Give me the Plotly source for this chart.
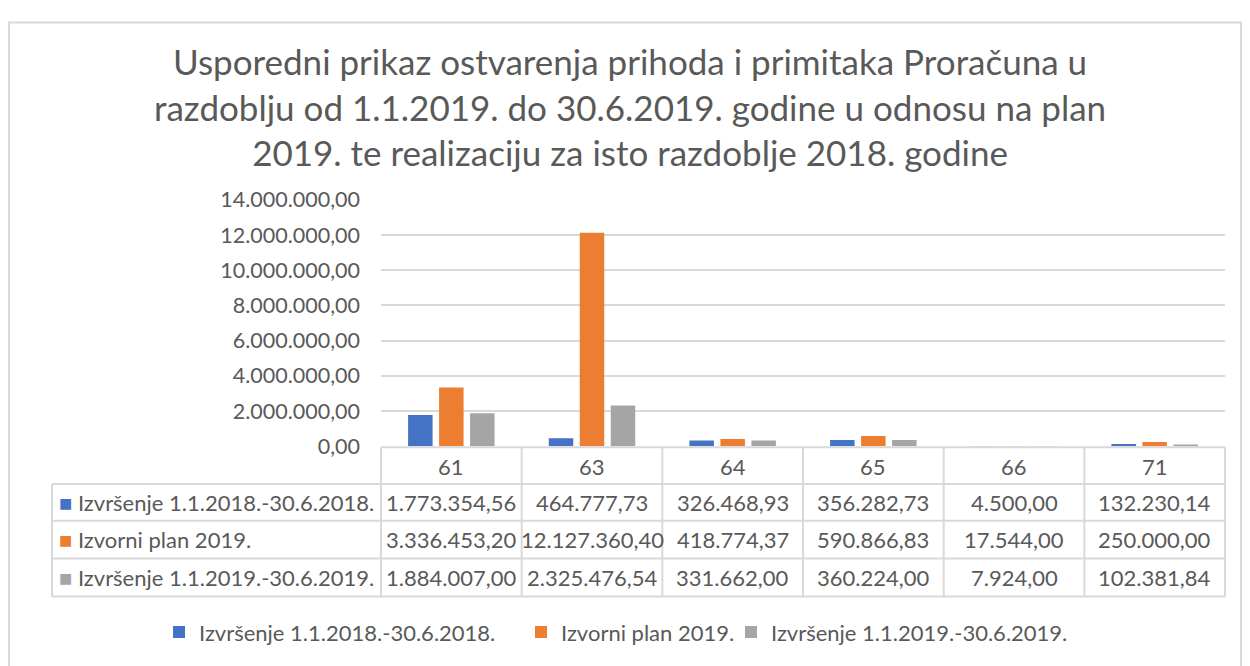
import plotly.graph_objects as go

W, H = 1250, 666          # screenshot size
OFF_X = 8                 # page body margin (horizontal)
# observed vertical mapping of the photographed page: screen_y = SY * fig_y + OFF_Y
SY, OFF_Y = 0.967, 19.0
FW, FH = W - 2 * OFF_X, 666

categories = ["61", "63", "64", "65", "66", "71"]
series_names = [
    "Izvršenje 1.1.2018.-30.6.2018.",
    "Izvorni plan 2019.",
    "Izvršenje 1.1.2019.-30.6.2019.",
]
izvrsenje_2018 = [1773354.56, 464777.73, 326468.93, 356282.73, 4500.00, 132230.14]
izvorni_plan_2019 = [3336453.20, 12127360.40, 418774.37, 590866.83, 17544.00, 250000.00]
izvrsenje_2019 = [1884007.00, 2325476.54, 331662.00, 360224.00, 7924.00, 102381.84]
series_values = [izvrsenje_2018, izvorni_plan_2019, izvrsenje_2019]
colors = ["#4472C4", "#ED7D31", "#A5A5A5"]

title_text = ("Usporedni prikaz ostvarenja prihoda i primitaka Proračuna u<br>"
              "razdoblju od 1.1.2019. do 30.6.2019. godine u odnosu na plan<br>"
              "2019. te realizaciju za isto razdoblje 2018. godine")

FONT = "Lato"
TXT = "#595959"
GRID = "#D9D9D9"


def px(x):
    return (x - OFF_X) / FW


def py(y):
    return 1 - ((y - OFF_Y) / SY) / FH


def fmt(v):
    s = f"{v:,.2f}"
    return s.replace(",", "X").replace(".", ",").replace("X", ".")


# plot area in screenshot pixels
X0, X1 = 381, 1225
Y_ZERO, Y_TOP = 447, 199

fig = go.Figure()
legend_ids = ["legend", "legend2", "legend3"]
for name, vals, col, lg in zip(series_names, series_values, colors, legend_ids):
    fig.add_trace(go.Bar(
        x=categories, y=vals, name=name, marker=dict(color=col, line=dict(width=0)),
        legend=lg, hoverinfo="x+y+name",
    ))

shapes = []
annotations = []

# outer frame
shapes.append(dict(type="rect", xref="paper", yref="paper",
                   x0=px(9), x1=px(1241), y0=py(720), y1=py(20.5),
                   line=dict(color=GRID, width=2), fillcolor="rgba(0,0,0,0)", layer="below"))

# data table grid
row_lines = [485, 522, 560, 598]
col_w = (X1 - X0) / len(categories)
shapes.append(dict(type="line", xref="paper", yref="paper", x0=px(X0), x1=px(X1),
                   y0=py(448), y1=py(448), line=dict(color=GRID, width=2)))
for ry in row_lines:
    shapes.append(dict(type="line", xref="paper", yref="paper", x0=px(52), x1=px(X1),
                       y0=py(ry), y1=py(ry), line=dict(color=GRID, width=2)))
for k in range(len(categories) + 1):
    xx = X0 + k * col_w
    shapes.append(dict(type="line", xref="paper", yref="paper", x0=px(xx), x1=px(xx),
                       y0=py(448), y1=py(598), line=dict(color=GRID, width=2)))
shapes.append(dict(type="line", xref="paper", yref="paper", x0=px(52), x1=px(52),
                   y0=py(485), y1=py(598), line=dict(color=GRID, width=2)))

TFS = 22
# header category labels (placed through the category x axis by index)
for i, c in enumerate(categories):
    annotations.append(dict(x=i, xref="x", y=py(467), yref="paper", text=c,
                            showarrow=False, xanchor="center", yanchor="middle",
                            font=dict(family=FONT, size=TFS, color=TXT)))
row_centers = [504, 541, 579]
for name, vals, col, yc in zip(series_names, series_values, colors, row_centers):
    annotations.append(dict(x=px(57), xref="paper", y=py(yc), yref="paper",
                            text=f"<span style='color:{col}'>■</span> {name}",
                            showarrow=False, xanchor="left", yanchor="middle",
                            font=dict(family=FONT, size=TFS, color=TXT)))
    for i, v in enumerate(vals):
        annotations.append(dict(x=i, xref="x", y=py(yc), yref="paper", text=fmt(v),
                                showarrow=False, xanchor="center", yanchor="middle",
                                font=dict(family=FONT, size=TFS, color=TXT)))

# title
annotations.append(dict(x=px(630), xref="paper", y=py(105), yref="paper", text=title_text,
                        showarrow=False, xanchor="center", yanchor="middle",
                        font=dict(family=FONT, size=35, color=TXT)))

leg_common = dict(orientation="h", yanchor="middle", xanchor="left", bgcolor="rgba(0,0,0,0)",
                  font=dict(family=FONT, size=22, color=TXT), itemwidth=30,
                  y=py(634))

fig.update_layout(
    width=FW, height=FH,
    margin=dict(l=0, r=0, t=0, b=0),
    paper_bgcolor="white", plot_bgcolor="white",
    separators=",.",
    barmode="group", bargap=0.339, bargroupgap=0.21,
    showlegend=True,
    legend=dict(**leg_common, x=px(159)),
    legend2=dict(**leg_common, x=px(521)),
    legend3=dict(**leg_common, x=px(731)),
    xaxis=dict(type="category", domain=[px(X0), px(X1)], range=[-0.5, len(categories) - 0.5],
               autorange=False, showticklabels=False,
               showgrid=False, zeroline=False, showline=False, ticks=""),
    yaxis=dict(domain=[py(Y_ZERO), py(Y_TOP)], range=[0, 14000000], autorange=False,
               dtick=2000000,
               tickformat=",.2f", showgrid=True, gridcolor=GRID, gridwidth=2,
               zeroline=False, showline=False, ticks="", ticklabelstandoff=20,
               tickfont=dict(family=FONT, size=21.5, color=TXT)),
    shapes=shapes,
    annotations=annotations,
)

fig.write_html("out.html")
